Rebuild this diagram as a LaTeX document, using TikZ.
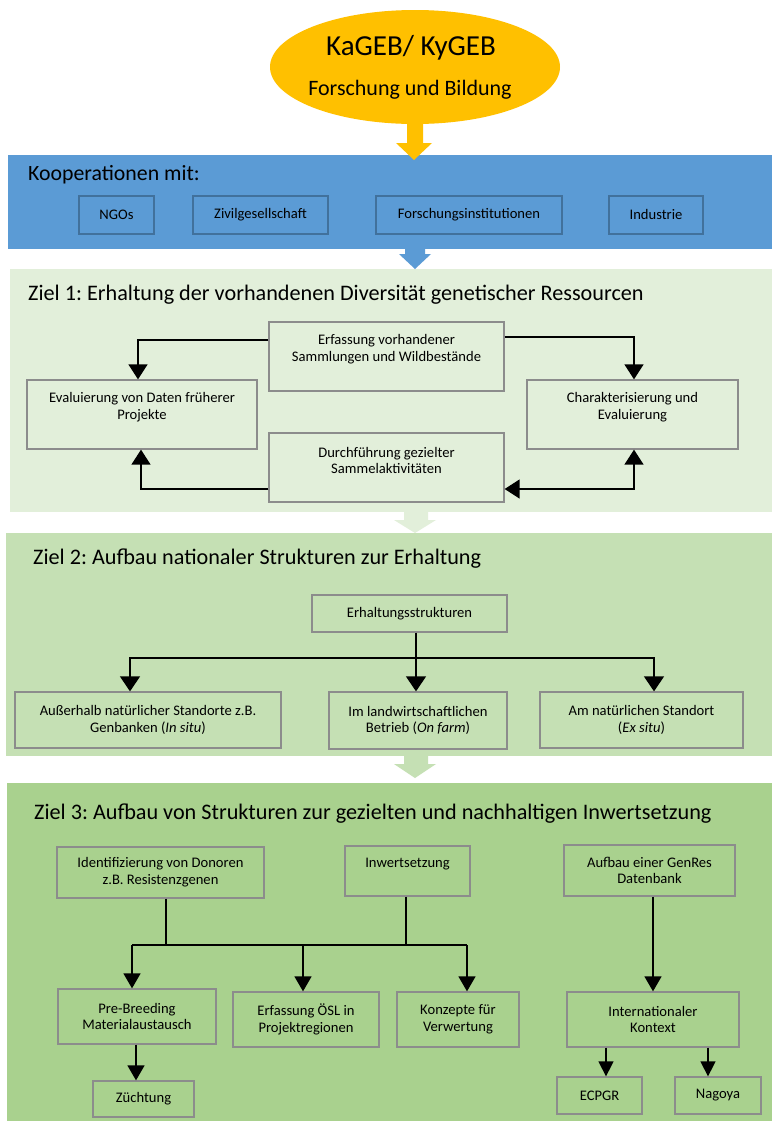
\documentclass[tikz,border=0pt]{standalone}
\usepackage{fontspec}
\setmainfont{Carlito}
\usetikzlibrary{arrows.meta,shapes.geometric}
\definecolor{gold}{HTML}{FFC000}
\definecolor{bandblue}{HTML}{5B9BD5}
\definecolor{blueedge}{HTML}{41719C}
\definecolor{zone}{HTML}{E2EFDA}
\definecolor{ztwo}{HTML}{C5E0B4}
\definecolor{zthree}{HTML}{A9D18E}
\definecolor{boxedge}{HTML}{8C8C8C}
\frenchspacing
\begin{document}
\begin{tikzpicture}[x=1pt,y=-1pt,
  wh/.style 2 args={minimum width=#1pt, minimum height=#2pt},
  gbox/.style={draw=boxedge, line width=1.3pt, inner sep=0pt, align=center,
    font=\fontsize{14.6}{16.7}\selectfont},
  bbox/.style={draw=blueedge, line width=1.2pt, fill=bandblue, inner sep=0pt,
    font=\fontsize{14.6}{16.7}\selectfont},
  btxt/.style={inner sep=0pt, align=center, font=\fontsize{14.6}{16.7}\selectfont},
  title/.style={inner sep=0pt, anchor=base west, font=\fontsize{22.2}{26}\selectfont},
  conn/.style={draw=black, line width=1.4pt},
  arr/.style={conn, -{Triangle[length=15pt, width=#1]}},
  arr/.default=17pt
]
\useasboundingbox (0,0) rectangle (772,1122);
\fill[white] (0,0) rectangle (772,1122);

% bands
\fill[bandblue] (8,155) rectangle (772,249);
\fill[zone] (10,269) rectangle (772,512);
\fill[ztwo] (6,533) rectangle (772,756);
\fill[zthree] (7,783) rectangle (772,1121);

% block arrows
\fill[gold] (407,110) -- (423,110) -- (423,143) -- (432,143) -- (414,160) -- (396,143) -- (407,143) -- cycle;
\fill[bandblue] (405,248) -- (425,248) -- (425,254) -- (431,254) -- (415,269) -- (399,254) -- (405,254) -- cycle;
\fill[zone] (404,511) -- (428,511) -- (428,520) -- (436,520) -- (415,533) -- (394,520) -- (404,520) -- cycle;
\fill[ztwo] (404,755) -- (428,755) -- (428,764) -- (436,764) -- (415,778) -- (394,764) -- (404,764) -- cycle;

% ellipse
\node[ellipse, fill=gold, inner sep=0pt, minimum width=290pt, minimum height=114pt] (ell) at (415,67) {};
\node[inner sep=0pt, anchor=base, font=\fontsize{29}{34}\selectfont] (kag) at (411,55) {KaGEB/ KyGEB};
\node[inner sep=0pt, anchor=base, font=\fontsize{22}{26}\selectfont] (fub) at (410,95) {Forschung und Bildung};

% cooperation
\node[title, font=\fontsize{21.8}{26}\selectfont] (tk) at (28,180) {Kooperationen mit:};
\node[bbox, wh={75}{38}] (ngo) at (116.5,215) {NGOs};
\node[bbox, wh={135}{38}] (ziv) at (260.5,215) {\raisebox{2pt}{Zivilgesellschaft}};
\node[bbox, wh={186}{38}] (fin) at (469,215) {Forschungsinstitutionen};
\node[bbox, wh={94}{38}] (ind) at (656,215) {\raisebox{2pt}{Industrie}};

% Ziel 1
\node[title] (t1) at (28,300) {Ziel 1: Erhaltung der vorhandenen Diversität genetischer Ressourcen};
\node[gbox, fill=zone, wh={235}{69}] (erf) at (386.5,356.5) {};
\node[gbox, fill=zone, wh={230}{69}] (eva) at (142,414.5) {};
\node[gbox, fill=zone, wh={211}{69}] (cha) at (632.5,414.5) {};
\node[gbox, fill=zone, wh={235}{69}] (dur) at (386.5,467.5) {};
\node[btxt] (erft) at ([yshift=7pt]erf.center) {Erfassung vorhandener\\Sammlungen und Wildbestände};
\node[btxt] (evat) at ([yshift=7pt]eva.center) {Evaluierung von Daten früherer\\Projekte};
\node[btxt] (chat) at ([yshift=7pt]cha.center) {Charakterisierung und\\Evaluierung};
\node[btxt] (durt) at ([yshift=7pt]dur.center) {Durchführung gezielter\\Sammelaktivitäten};
\draw[arr=19pt] ([yshift=16.5pt]erf.west) -| ([xshift=-4pt]eva.north);
\draw[arr=19pt] ([yshift=19.5pt]erf.east) -| ([xshift=1.5pt]cha.north);
\draw[arr=19pt] ([yshift=-21.5pt]dur.west) -| ([xshift=-1pt]eva.south);
\draw[conn, {Triangle[length=15pt, width=19pt]}-{Triangle[length=15pt, width=19pt]}] ([xshift=1.5pt]cha.south) |- ([yshift=-21.5pt]dur.east);

% Ziel 2
\node[title] (t2) at (33,564) {Ziel 2: Aufbau nationaler Strukturen zur Erhaltung};
\node[gbox, fill=ztwo, wh={195}{37}] (erh) at (409.5,613.5) {Erhaltungsstrukturen};
\node[gbox, fill=ztwo, wh={266}{56}] (aus) at (148,720) {Außerhalb natürlicher Standorte z.B.\\Genbanken (\textit{In situ})};
\node[gbox, fill=ztwo, wh={178}{57}] (iml) at (418,720.5) {Im landwirtschaftlichen\\Betrieb (\textit{On farm})};
\node[gbox, fill=ztwo, wh={203}{56}] (amn) at (641.5,720) {Am natürlichen Standort\\(\textit{Ex situ})};
\coordinate (z2h) at (416,658);
\draw[arr=20pt] ([xshift=6.5pt]erh.south) -- ([xshift=-2pt]iml.north);
\draw[arr=20pt] (z2h) -| ([xshift=-18pt]aus.north);
\draw[arr=20pt] (z2h) -| ([xshift=12.5pt]amn.north);

% Ziel 3
\node[title] (t3) at (34,819) {Ziel 3: Aufbau von Strukturen zur gezielten und nachhaltigen Inwertsetzung};
\node[gbox, fill=zthree, wh={207}{51}] (idf) at (160.5,872.5) {Identifizierung von Donoren\\z.B. Resistenzgenen};
\node[gbox, fill=zthree, wh={125}{50}] (inw) at (407.5,871) {};
\node[btxt] (inwt) at ([yshift=7pt]inw.center) {Inwertsetzung};
\node[gbox, fill=zthree, wh={171}{51}] (auf) at (649.5,870.5) {Aufbau einer GenRes\\Datenbank};
\node[gbox, fill=zthree, wh={158}{55}] (pre) at (137,1016.5) {Pre-Breeding\\Materialaustausch};
\node[gbox, fill=zthree, wh={101}{36}] (zue) at (143.5,1099) {Züchtung};
\node[gbox, fill=zthree, wh={146}{55}] (oes) at (306,1019.5) {Erfassung ÖSL in\\Projektregionen};
\node[gbox, fill=zthree, wh={122}{55}] (kon) at (458,1019.5) {Konzepte für\\Verwertung};
\node[gbox, fill=zthree, wh={172}{55}] (int) at (653,1019.5) {Internationaler\\Kontext};
\node[gbox, fill=zthree, wh={85}{37}] (ecp) at (599.5,1095.5) {ECPGR};
\node[gbox, fill=zthree, wh={86}{37}] (nag) at (718,1095.5) {Nagoya};
\coordinate (z3l) at (132,945);
\coordinate (z3r) at (467,945);
\draw[conn] (z3l) -- (z3r);
\draw[conn] ([xshift=5.5pt]idf.south) -- ([xshift=5.5pt]idf.south |- z3l);
\draw[conn] ([xshift=-1.5pt]inw.south) -- ([xshift=-1.5pt]inw.south |- z3l);
\draw[arr] (z3l) -- ([xshift=-5pt]pre.north);
\draw[arr] ([xshift=-3pt]oes.north |- z3l) -- ([xshift=-3pt]oes.north);
\draw[arr] (z3r) -- ([xshift=9pt]kon.north);
\draw[arr] ([xshift=-1pt]pre.south) -- ([xshift=-7.5pt]zue.north);
\draw[arr] ([xshift=3.5pt]auf.south) -- (int.north);
\draw[arr=15pt] ([xshift=-47pt]int.south) -- ([xshift=6.5pt]ecp.north);
\draw[arr=15pt] ([xshift=55pt]int.south) -- ([xshift=-10pt]nag.north);
\end{tikzpicture}
\end{document}
